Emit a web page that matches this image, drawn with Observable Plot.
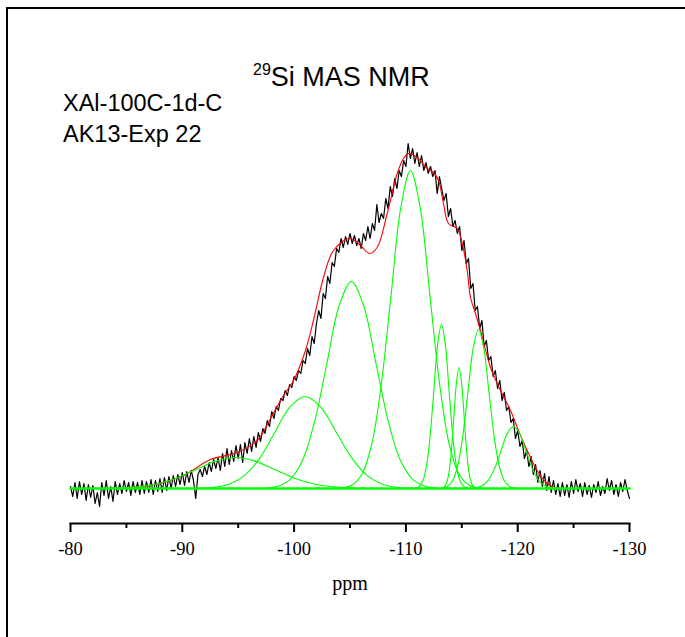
<!DOCTYPE html>
<html><head><meta charset="utf-8">
<script src="https://cdn.jsdelivr.net/npm/d3@7"></script>
<script src="https://cdn.jsdelivr.net/npm/@observablehq/plot@0.6"></script>
<style>
html,body{margin:0;padding:0;background:#fff;}
#wrap{position:relative;width:685px;height:637px;overflow:hidden;}
#chart{position:absolute;left:0;top:0;}
#frame{position:absolute;left:6px;top:7px;width:800px;height:800px;border-left:2.5px solid #000;border-top:2.5px solid #000;box-sizing:border-box;}
.t{position:absolute;font-family:"Liberation Sans",Arial,sans-serif;color:#000;white-space:nowrap;line-height:1;}
#ppm{font-family:"Liberation Serif","Times New Roman",serif;font-size:20px;}
</style></head><body>
<div id="wrap">
<div id="chart"></div>
<div id="frame"></div>
<div class="t" id="title" style="left:253px;top:62px;font-size:27px;"><span style="font-size:16px;vertical-align:11px;">29</span>Si MAS NMR</div>
<div class="t" style="left:63px;top:92px;font-size:23.5px;">XAl-100C-1d-C</div>
<div class="t" style="left:63px;top:123px;font-size:23.5px;">AK13-Exp 22</div>
<div class="t" id="ppm" style="left:350px;top:573px;transform:translateX(-50%);">ppm</div>
</div>
<script>
// x axis ticks (ppm)
const majorTicks = [-80, -90, -100, -110, -120, -130];
const minorTicks = [-85, -95, -105, -115, -125];

// experimental spectrum (black), sampled every 0.2 ppm from -80 ppm
const expStart = -80;
const expStep = -0.2;
const expValues = [
  2,-8,6,-10,7,-6,5,-12,4,-9,
  3,-15,-4,-18,6,-7,8,-10,2,-13,
  7,-6,5,-5,8,-3,6,-7,7,-4,
  6,-6,8,-5,7,-4,9,-6,8,-3,
  10,-4,11,-2,12,0,13,2,14,4,
  16,3,17,6,18,8,-10,14,19,12,
  22,14,26,17,29,20,31,18,35,22,
  40,24,38,27,43,30,44,26,46,35,
  50,37,52,41,56,47,60,55,68,62,
  77,70,82,78,90,88,98,93,104,101,
  112,108,118,115,128,125,140,133,152,145,
  165,178,170,195,190,212,205,226,222,240,
  236,250,241,252,244,255,245,253,243,250,
  240,255,248,262,250,265,258,284,266,275,
  270,290,280,302,292,310,300,318,312,328,
  322,345,330,340,325,336,322,333,318,326,
  315,322,312,318,295,312,300,288,295,272,
  280,262,268,255,262,238,248,225,230,200,
  205,178,182,160,168,142,148,128,132,112,
  118,100,108,88,96,78,82,66,70,50,
  58,42,48,30,38,22,32,14,24,6,
  18,2,15,-2,12,-4,8,-6,5,-8,
  6,-7,4,-9,7,-5,9,-3,5,-8,
  6,-6,3,-9,4,-4,7,-7,2,-5,
  10,-2,8,-6,4,-8,6,-3,9,-2,
  -10
];

// overall fit (red): [ppm, intensity]
const fitCurve = [[-80,0],[-84,0.5],[-87.16,3],[-90.1,13],[-92.52,29],[-94.91,36],[-96.7,48],[-97.89,70],[-99.05,93],[-99.95,108],[-101.02,138],[-101.73,168],[-102.63,211],[-103.52,238],[-104.95,250],[-105.94,243],[-106.74,235],[-107.43,241],[-108.33,275],[-109.22,315],[-109.79,330],[-110.23,335],[-111.01,331],[-111.91,320],[-112.47,316],[-112.92,308],[-113.36,285],[-113.81,265],[-114.59,260],[-115.04,245],[-115.48,218],[-115.78,191],[-116.22,175],[-116.67,158],[-117.57,121],[-118.46,98],[-119.36,78],[-120.07,58],[-120.85,38],[-121.74,18],[-122.64,5],[-123.53,0],[-124,0]];

// fitted components (green): [ppm, intensity]
const peak1 = [[-82.2,0.07],[-84.0,0.3],[-85.8,1.4],[-87.6,4.2],[-89.4,10.1],[-91.2,18.8],[-93.0,27.4],[-94.8,31],[-96.5,27.4],[-98.3,18.8],[-100.1,10.1],[-101.9,4.2],[-103.7,1.4],[-105.5,0.3],[-107.3,0.07]];
const peak2 = [[-91.3,0.2],[-92.7,1.0],[-94.1,4.0],[-95.5,12.4],[-96.9,29.9],[-98.25,55.8],[-99.6,81.2],[-101.0,92],[-102.4,81.2],[-103.8,55.8],[-105.2,29.9],[-106.6,12.4],[-107.95,4.0],[-109.3,1.0],[-110.7,0.2]];
const peak3 = [[-97.46,0.5],[-98.56,2.3],[-99.65,9.1],[-100.75,28.0],[-101.84,67.2],[-102.94,125.5],[-104.03,182.7],[-105.13,207],[-106.22,182.7],[-107.32,125.5],[-108.42,67.2],[-109.51,28.0],[-110.61,9.1],[-111.70,2.3],[-112.80,0.5]];
const peak4 = [[-104.31,0.7],[-105.18,3.5],[-106.05,14.0],[-106.92,43.0],[-107.79,103.3],[-108.67,192.9],[-109.54,280.6],[-110.41,318],[-111.28,280.6],[-112.15,192.9],[-113.03,103.3],[-113.90,43.0],[-114.77,14.0],[-115.64,3.5],[-116.51,0.7]];
const peak5 = [[-110.83,0.4],[-111.17,1.8],[-111.50,7.2],[-111.84,22.2],[-112.17,53.3],[-112.51,99.5],[-112.84,144.7],[-113.18,164],[-113.52,144.7],[-113.85,99.5],[-114.19,53.3],[-114.52,22.2],[-114.86,7.2],[-115.19,1.8],[-115.53,0.4]];
const peak6 = [[-113.19,0.3],[-113.41,1.3],[-113.63,5.3],[-113.86,16.4],[-114.08,39.3],[-114.30,73.4],[-114.53,106.8],[-114.75,121],[-114.97,106.8],[-115.20,73.4],[-115.42,39.3],[-115.64,16.4],[-115.87,5.3],[-116.09,1.3],[-116.32,0.3]];
const peak7 = [[-113.20,0.35],[-113.67,1.8],[-114.14,7.0],[-114.61,21.5],[-115.08,51.6],[-115.55,96.4],[-116.02,140.3],[-116.49,159],[-116.96,140.3],[-117.43,96.4],[-117.90,51.6],[-118.37,21.5],[-118.84,7.0],[-119.31,1.8],[-119.78,0.35]];
const peak8 = [[-115.71,0.14],[-116.27,0.7],[-116.83,2.7],[-117.38,8.4],[-117.94,20.1],[-118.50,37.6],[-119.06,54.7],[-119.62,62],[-120.18,54.7],[-120.74,37.6],[-121.30,20.1],[-121.86,8.4],[-122.41,2.7],[-122.97,0.7],[-123.53,0.14]];
const baseline = [[-80,0],[-130,0]];

const expData = expValues.map((h, i) => ({ppm: expStart + i * expStep, h}));
const fitData = fitCurve.map(([ppm, h]) => ({ppm, h}));
const peaks = [peak1, peak2, peak3, peak4, peak5, peak6, peak7, peak8];
const peakData = peaks.flatMap((p, k) => p.map(([ppm, h]) => ({peak: k, ppm, h})));
const baseData = baseline.map(([ppm, h]) => ({ppm, h}));

const chart = Plot.plot({
  width: 685,
  height: 637,
  marginLeft: 70,
  marginRight: 56,
  marginTop: 20,
  marginBottom: 114,
  style: {fontFamily: '"Liberation Serif","Times New Roman",serif', fontSize: "18.5px", background: "transparent", color: "#000"},
  x: {domain: [-80, -130], label: null},
  y: {domain: [0, 340], range: [488, 148], axis: null},
  marks: [
    Plot.line(expData, {x: "ppm", y: "h", stroke: "#000", strokeWidth: 1.2}),
    Plot.line(fitData, {x: "ppm", y: "h", stroke: "#ff0000", strokeWidth: 1.1, curve: "catmull-rom"}),
    Plot.line(peakData, {x: "ppm", y: "h", z: "peak", stroke: "#00ff00", strokeWidth: 1.1, curve: "catmull-rom"}),
    Plot.line(baseData, {x: "ppm", y: "h", stroke: "#00ff00", strokeWidth: 2.5}),
    Plot.frame({anchor: "bottom", strokeWidth: 2}),
    Plot.axisX(minorTicks, {anchor: "bottom", tickSize: 5, tickFormat: () => "", strokeWidth: 2, label: null}),
    Plot.axisX(majorTicks, {anchor: "bottom", tickSize: 9, tickPadding: 9, tickFormat: d => String(d), strokeWidth: 2, label: null})
  ]
});
document.getElementById("chart").appendChild(chart);
</script>
</body></html>
